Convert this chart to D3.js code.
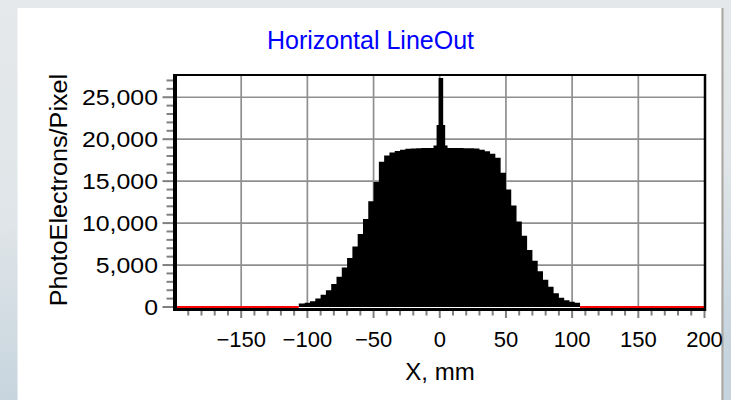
<!DOCTYPE html>
<html>
<head>
<meta charset="utf-8">
<script src="https://cdn.jsdelivr.net/npm/d3@7"></script>
<style>
  html, body { margin: 0; padding: 0; background: #e4e8ea; }
  svg { display: block; }
  text { font-family: "Liberation Sans", Arial, sans-serif; }
</style>
</head>
<body>
<svg id="chart" width="731" height="400"></svg>
<script>
// ---- data (left edge of each step, mm) ----
const xEdges = [-200, -106.5, -102, -98, -94, -90, -86, -82, -78, -74, -70, -66, -62, -58, -54, -50, -46, -42, -38, -34, -30, -26, -22, -18, -14, -10, -4.7, -2.4, -0.9, 2.6, 4.1, 5.9, 10, 14, 18, 22, 26, 30, 34, 38, 42, 46, 50, 54, 58, 62, 66, 70, 74, 78, 82, 86, 90, 94, 98, 102, 106];
const counts = [0, 420, 500, 680, 1000, 1450, 2000, 2750, 3600, 4700, 5850, 7200, 8700, 10500, 12600, 14900, 17300, 18050, 18400, 18600, 18750, 18850, 18900, 18920, 18940, 18950, 19250, 21700, 27300, 21700, 19250, 18950, 18940, 18940, 18930, 18920, 18880, 18750, 18550, 18250, 17800, 16000, 14000, 12100, 10200, 8500, 6800, 5500, 4250, 3250, 2400, 1650, 1100, 800, 620, 520, 0];
const xDomain = [-200, 200];
const yDomain = [0, 27650];
const xTickLabels = [-150, -100, -50, 0, 50, 100, 150, 200];
const yTickLabels = [0, 5000, 10000, 15000, 20000, 25000];
const chartTitle = "Horizontal LineOut";
const xTitle = "X, mm";
const yTitle = "PhotoElectrons/Pixel";

const data = xEdges.map((x, i) => ({x, v: counts[i]}));
data.push({x: xDomain[1], v: counts[counts.length - 1]});

const svg = d3.select("#chart");
const W = 731, H = 400;
const L = 175, R = 704.5, T = 75, B = 307;

// background
const defs = svg.append("defs");
const g1 = defs.append("linearGradient").attr("id", "bg").attr("x1", 0).attr("y1", 0).attr("x2", 0.15).attr("y2", 1);
g1.append("stop").attr("offset", "0%").attr("stop-color", "#e6e9eb");
g1.append("stop").attr("offset", "55%").attr("stop-color", "#dfe5e8");
g1.append("stop").attr("offset", "100%").attr("stop-color", "#c6d4de");
svg.append("rect").attr("width", W).attr("height", H).attr("fill", "url(#bg)");
svg.append("rect").attr("x", 17.5).attr("y", 8).attr("width", 704).attr("height", H - 8).attr("fill", "#fff");
svg.append("line").attr("x1", 722.5).attr("x2", 722.5).attr("y1", 8).attr("y2", H)
  .attr("stroke", "#aaa69f").attr("stroke-width", 2);

const x = d3.scaleLinear().domain(xDomain).range([L, R]);
const y = d3.scaleLinear().domain(yDomain).range([B, T]);

defs.append("clipPath").attr("id", "plotclip").append("rect")
  .attr("x", L).attr("y", T).attr("width", R - L).attr("height", B - T + 1);

// gridlines
const grid = svg.append("g");
grid.selectAll(".gy").data(yTickLabels.filter(d => d > 0)).join("line")
  .attr("x1", L).attr("x2", R).attr("y1", d => y(d)).attr("y2", d => y(d))
  .attr("stroke", "#8f8f8f").attr("stroke-width", 1.7);
grid.selectAll(".gx").data(xTickLabels.filter(d => d < xDomain[1])).join("line")
  .attr("y1", T).attr("y2", B).attr("x1", d => x(d)).attr("x2", d => x(d))
  .attr("stroke", "#8f8f8f").attr("stroke-width", 1.7);

// data area
const plot = svg.append("g").attr("clip-path", "url(#plotclip)");
const area = d3.area().curve(d3.curveStepAfter)
  .x(d => x(d.x)).y0(y(0)).y1(d => y(d.v));
plot.append("path").datum(data).attr("d", area).attr("fill", "#000");

// red line where the lineout is zero
const zeroRuns = [];
for (let i = 0; i < data.length - 1; i++) {
  if (data[i].v === 0) zeroRuns.push([data[i].x, data[i + 1].x]);
}
plot.selectAll(".zr").data(zeroRuns).join("line")
  .attr("x1", d => x(d[0])).attr("x2", d => x(d[1]))
  .attr("y1", y(0)).attr("y2", y(0))
  .attr("stroke", "#ff0000").attr("stroke-width", 2);

// frame
svg.append("line").attr("x1", L - 2).attr("x2", R + 1.5).attr("y1", T).attr("y2", T)
  .attr("stroke", "#000").attr("stroke-width", 2);
svg.append("line").attr("x1", R + 0.5).attr("x2", R + 0.5).attr("y1", T - 1).attr("y2", B + 4)
  .attr("stroke", "#000").attr("stroke-width", 2.5);
svg.append("line").attr("x1", L).attr("x2", L).attr("y1", T - 1).attr("y2", B + 4)
  .attr("stroke", "#000").attr("stroke-width", 4);
svg.append("line").attr("x1", L - 2).attr("x2", R + 1.5).attr("y1", B + 2.5).attr("y2", B + 2.5)
  .attr("stroke", "#000").attr("stroke-width", 3);

// y axis ticks
const yMinor = d3.range(yDomain[0], yDomain[1], 1000).filter(v => v % 5000 !== 0);
const ya = svg.append("g");
ya.selectAll(".ymin").data(yMinor).join("line")
  .attr("x1", L - 8.5).attr("x2", L - 2).attr("y1", d => y(d)).attr("y2", d => y(d))
  .attr("stroke", "#808080").attr("stroke-width", 2);
ya.selectAll(".ymaj").data(yTickLabels).join("line")
  .attr("x1", L - 12.5).attr("x2", L - 2).attr("y1", d => y(d)).attr("y2", d => y(d))
  .attr("stroke", "#808080").attr("stroke-width", 2);
ya.selectAll(".ylab").data(yTickLabels).join("text")
  .attr("transform", d => `translate(${L - 17},${y(d) + 8}) scale(1.13,1)`)
  .attr("text-anchor", "end").attr("font-size", 22).attr("fill", "#000")
  .text(d3.format(","));

// x axis ticks
const xMinor = d3.range(xDomain[0] + 10, xDomain[1], 10).filter(v => v % 50 !== 0);
const xa = svg.append("g");
xa.selectAll(".xmin").data(xMinor).join("line")
  .attr("y1", B + 4).attr("y2", B + 8.5).attr("x1", d => x(d)).attr("x2", d => x(d))
  .attr("stroke", "#808080").attr("stroke-width", 2);
xa.selectAll(".xmaj").data(xTickLabels).join("line")
  .attr("y1", B + 4).attr("y2", B + 11).attr("x1", d => x(d)).attr("x2", d => x(d))
  .attr("stroke", "#808080").attr("stroke-width", 2);
xa.selectAll(".xlab").data(xTickLabels).join("text")
  .attr("x", d => x(d)).attr("y", 347)
  .attr("text-anchor", "middle").attr("font-size", 22).attr("fill", "#000")
  .text(d3.format("d"));

// titles
svg.append("text").attr("x", 370.5).attr("y", 49.3).attr("text-anchor", "middle")
  .attr("font-size", 25).attr("fill", "#0000ff").text(chartTitle);
svg.append("text").attr("x", 440).attr("y", 380).attr("text-anchor", "middle")
  .attr("font-size", 24).attr("fill", "#000").text(xTitle);
svg.append("text").attr("transform", "translate(66.5,190) rotate(-90) scale(1.05,1)")
  .attr("text-anchor", "middle").attr("font-size", 24).attr("fill", "#000").text(yTitle);
</script>
</body>
</html>
